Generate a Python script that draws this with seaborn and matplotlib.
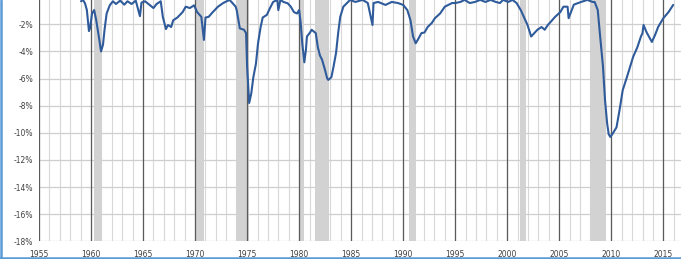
import numpy as np
import pandas as pd
import matplotlib
matplotlib.use("Agg")
import matplotlib.pyplot as plt
from matplotlib.lines import Line2D
import seaborn as sns

# ---- data (year, % below prior peak) ----
years = [1959.04, 1959.23, 1959.42, 1959.6, 1959.8, 1959.9, 1960.1, 1960.3, 1960.5, 1960.8,
         1960.96, 1961.15, 1961.3, 1961.5, 1961.8, 1962.1, 1962.4, 1962.8, 1963.2, 1963.5,
         1963.9, 1964.3, 1964.7, 1964.85, 1965.2, 1965.6, 1966.0, 1966.3, 1966.7, 1966.9,
         1967.2, 1967.4, 1967.7, 1967.9, 1968.3, 1968.8, 1969.1, 1969.5, 1969.9, 1970.2,
         1970.6, 1970.85, 1971.0, 1971.3, 1971.7, 1972.2, 1972.7, 1973.3, 1973.5, 1973.9,
         1974.0, 1974.3, 1974.7, 1974.9, 1975.0, 1975.2, 1975.4, 1975.6, 1975.85, 1976.05,
         1976.3, 1976.5, 1976.9, 1977.2, 1977.5, 1977.9, 1978.0, 1978.2, 1978.5, 1978.9,
         1979.2, 1979.5, 1979.8, 1980.0, 1980.15, 1980.3, 1980.5, 1980.65, 1980.75, 1981.05,
         1981.2, 1981.45, 1981.6, 1981.8, 1982.0, 1982.2, 1982.5, 1982.7, 1982.8, 1983.1,
         1983.3, 1983.55, 1983.75, 1983.95, 1984.25, 1984.6, 1984.9, 1985.4, 1986.1, 1986.6,
         1987.05, 1987.15, 1987.6, 1988.3, 1988.9, 1989.5, 1990.0, 1990.4, 1990.7, 1990.95,
         1991.2, 1991.4, 1991.75, 1992.05, 1992.35, 1992.75, 1993.05, 1993.55, 1994.0, 1994.7,
         1995.0, 1995.5, 1995.9, 1996.4, 1996.9, 1997.4, 1997.9, 1998.4, 1998.9, 1999.3,
         1999.6, 2000.1, 2000.5, 2000.9, 2001.3, 2001.6, 2001.95, 2002.3, 2002.6, 2002.9,
         2003.3, 2003.6, 2003.9, 2004.2, 2004.6, 2005.1, 2005.4, 2005.8, 2005.9, 2006.4,
         2007.1, 2007.7, 2008.2, 2008.4, 2008.7, 2008.9, 2009.2, 2009.4, 2009.6, 2009.75,
         2009.9, 2010.1, 2010.5, 2010.8, 2011.1, 2011.5, 2011.8, 2012.1, 2012.5, 2012.85,
         2013.0, 2013.1, 2013.4, 2013.9, 2014.2, 2014.5, 2015.0, 2015.5, 2015.95]
values = [-0.3, -0.2, -0.45, -0.95, -2.5, -2.3, -1.2, -0.95, -1.7, -3.15,
          -4.0, -3.5, -2.4, -1.2, -0.6, -0.3, -0.5, -0.25, -0.55, -0.3,
          -0.5, -0.25, -1.4, -0.4, -0.3, -0.55, -0.8, -0.5, -0.3, -1.45,
          -2.35, -2.05, -2.2, -1.7, -1.5, -1.1, -0.7, -0.8, -0.6, -1.1,
          -1.45, -3.15, -1.5, -1.45, -1.1, -0.7, -0.43, -0.2, -0.35, -0.7,
          -0.95, -2.3, -2.4, -2.65, -5.1, -7.8, -7.1, -5.9, -4.9, -3.4,
          -2.2, -1.5, -1.3, -0.8, -0.35, -0.2, -0.95, -0.2, -0.35, -0.45,
          -0.7, -1.1, -1.2, -0.95, -1.9, -3.4, -4.8, -3.9, -2.9, -2.6,
          -2.4, -2.55, -2.65, -3.7, -4.3, -4.6, -5.4, -6.0, -6.1, -5.9,
          -5.15, -4.1, -2.65, -1.45, -0.7, -0.43, -0.2, -0.35, -0.2, -0.43,
          -2.05, -0.43, -0.35, -0.57, -0.35, -0.43, -0.57, -0.95, -1.7, -2.9,
          -3.4, -3.15, -2.65, -2.6, -2.2, -1.9, -1.55, -1.2, -0.7, -0.43,
          -0.43, -0.35, -0.2, -0.43, -0.35, -0.2, -0.35, -0.2, -0.35, -0.43,
          -0.2, -0.35, -0.2, -0.43, -0.95, -1.45, -2.05, -2.9, -2.65, -2.4,
          -2.2, -2.4, -2.05, -1.8, -1.45, -1.1, -0.7, -0.7, -1.55, -0.55,
          -0.35, -0.2, -0.35, -0.35, -0.95, -2.65, -5.1, -7.6, -9.3, -10.1,
          -10.3, -10.1, -9.6, -8.3, -6.85, -5.9, -5.15, -4.4, -3.7, -2.9,
          -2.65, -2.05, -2.6, -3.3, -2.8, -2.2, -1.55, -1.1, -0.57]

# NBER recessions (start, end)
rec_start = [1960.3, 1969.95, 1973.9, 1980.05, 1981.55, 1990.55, 2001.2, 2007.95]
rec_end = [1961.1, 1970.85, 1975.2, 1980.5, 1982.85, 1991.2, 2001.85, 2009.45]

x_ticks = list(range(1955, 2016, 5))
y_ticks = list(range(-18, 0, 2))

df = pd.DataFrame({"year": years, "value": values})

sns.set_style("white")
plt.rcParams["font.family"] = ["DejaVu Sans"]

fig = plt.figure(figsize=(6.81, 2.59), dpi=100)
W, H = 681, 259
left_px, right_px = 39, 681
bot_px, top_px = 241.3, -2.8
ax = fig.add_axes([left_px / W, (H - bot_px) / H,
                   (right_px - left_px) / W, (bot_px - top_px) / H])

# minor vertical grid (every year)
for yr in range(1955, 2018):
    ax.axvline(yr, color="#d8d8d8", lw=0.8, zorder=0)
# horizontal grid
for v in y_ticks:
    ax.axhline(v, color="#cfcfcf", lw=0.9, zorder=0)
# recession bands
for s, e in zip(rec_start, rec_end):
    ax.axvspan(s, e, color="#d2d2d2", lw=0, zorder=1)
# major vertical lines
for yr in x_ticks:
    ax.axvline(yr, color="#5a5a5a", lw=0.9, zorder=2)

sns.lineplot(data=df, x="year", y="value", ax=ax, color="#2f5b9b", lw=1.5,
             zorder=3, legend=False)

ax.set_xlim(1955, 2016.7)
ax.set_ylim(-18, 0)
ax.set_xticks(x_ticks)
ax.set_xticklabels([str(t) for t in x_ticks])
ax.set_yticks(y_ticks)
ax.set_yticklabels([f"{t}%" for t in y_ticks])
ax.tick_params(axis="both", length=0, labelsize=5.5, labelcolor="#404040")
ax.tick_params(axis="x", pad=6)
ax.tick_params(axis="y", pad=4)
ax.set_xlabel("")
ax.set_ylabel("")
for sp in ax.spines.values():
    sp.set_visible(False)

# blue frame edges (left and bottom)
fig.add_artist(Line2D([1.0 / W, 1.0 / W], [0, 1], transform=fig.transFigure,
                      color="#5b9bd5", lw=1.8))
fig.add_artist(Line2D([0, 1], [1.3 / H, 1.3 / H], transform=fig.transFigure,
                      color="#5b9bd5", lw=1.8))

fig.savefig("out.png", dpi=100)
